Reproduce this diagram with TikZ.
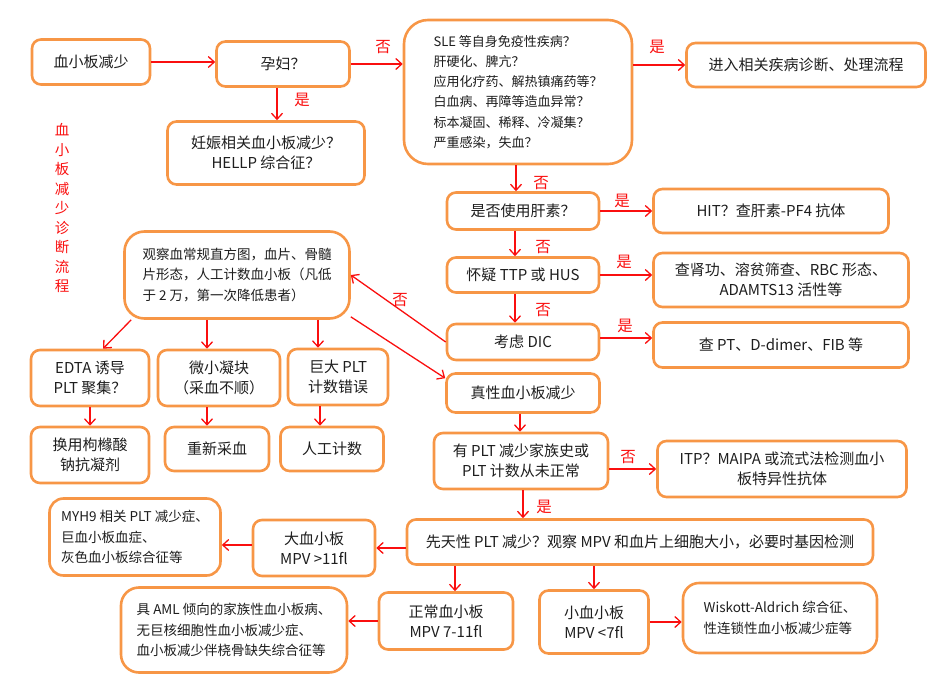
\documentclass[tikz,border=0pt]{standalone}
\usepackage{fontspec}
\setmainfont{Noto Sans CJK SC}
\usetikzlibrary{arrows.meta,calc}
\newlength{\du}
\setlength{\du}{1pt}
% full width punctuation
\newcommand{\fwq}{^^^^ff1f}
\newcommand{\fwc}{^^^^ff0c}
\newcommand{\fwl}{^^^^ff08}
\newcommand{\fwr}{^^^^ff09}
\definecolor{boxorange}{RGB}{247,150,70}
\definecolor{linkred}{RGB}{250,15,15}
\definecolor{textgray}{RGB}{30,30,30}
\tikzset{
  flowbox/.style={draw=boxorange, line width=2.6pt, rounded corners=9pt, fill=white,
    text=textgray, align=center, inner sep=0pt, font=\fontsize{15}{20}\selectfont},
  notebox/.style={flowbox, align=left, font=\fontsize{13.5}{20.3}\selectfont},
  flowarrow/.style={draw=linkred, line width=1.3pt, -{Straight Barb[length=6pt,width=11pt]}},
  answer/.style={text=linkred, inner sep=0pt, font=\fontsize{15.5}{15.5}\selectfont},
}
\begin{document}
\begin{tikzpicture}[x=\du,y=-\du]
\useasboundingbox (0,0) rectangle (951,696);
% title
\node[answer, align=center, font=\fontsize{14.5}{19.5}\selectfont] (title) at (62,208)
  {血\\小\\板\\减\\少\\诊\\断\\流\\程};
% top row
\node[flowbox, minimum width=118\du, minimum height=45\du] (plt) at (91,62) {血小板减少};
\node[flowbox, minimum width=133\du, minimum height=45\du] (preg) at (283,64) {孕妇\fwq};
\node[flowbox, minimum width=197\du, minimum height=63\du] (hellp) at (266,153)
  {妊娠相关血小板减少\fwq\\HELLP 综合征\fwq};
\node[notebox, rounded corners=24pt, minimum width=228\du, minimum height=144\du,
  font=\fontsize{13}{20.3}\selectfont] (sle) at (518,92)
  {SLE 等自身免疫性疾病\fwq\\肝硬化、脾亢\fwq\\应用化疗药、解热镇痛药等\fwq\\白血病、再障等造血异常\fwq\\标本凝固、稀释、冷凝集\fwq\\严重感染\fwc 失血\fwq};
\node[flowbox, minimum width=239\du, minimum height=44\du] (enter) at (806,65) {进入相关疾病诊断、处理流程};
% middle column
\node[flowbox, minimum width=152\du, minimum height=37\du] (hep) at (523,211) {是否使用肝素\fwq};
\node[flowbox, minimum width=235\du, minimum height=44\du] (hit) at (771,211) {HIT\fwq 查肝素-PF4 抗体};
\node[flowbox, minimum width=152\du, minimum height=35\du] (ttp) at (523,275) {怀疑 TTP 或 HUS};
\node[flowbox, minimum width=255\du, minimum height=54\du] (renal) at (781,280)
  {查肾功、溶贫筛查、RBC 形态、\\ADAMTS13 活性等};
\node[flowbox, minimum width=152\du, minimum height=36\du] (dic) at (523,342) {考虑 DIC};
\node[flowbox, minimum width=255\du, minimum height=45\du] (ptbox) at (781,345) {查 PT、D-dimer、FIB 等};
\node[flowbox, minimum width=153\du, minimum height=39\du] (true) at (523,393) {真性血小板减少};
\node[flowbox, minimum width=174\du, minimum height=56\du] (family) at (521,461)
  {有 PLT 减少家族史或\\PLT 计数从未正常};
\node[flowbox, minimum width=249\du, minimum height=56\du] (itp) at (782,469)
  {ITP\fwq MAIPA 或流式法检测血小\\板特异性抗体};
\node[flowbox, minimum width=466\du, minimum height=45\du] (congen) at (640,542)
  {先天性 PLT 减少\fwq 观察 MPV 和血片上细胞大小\fwc 必要时基因检测};
% bottom rows
\node[flowbox, minimum width=122\du, minimum height=56\du] (large) at (314,548) {大血小板\\MPV >11fl};
\node[notebox, rounded corners=14pt, minimum width=171\du, minimum height=77\du] (myh9) at (135,537)
  {MYH9 相关 PLT 减少症、\\巨血小板血症、\\灰色血小板综合征等};
\node[flowbox, minimum width=134\du, minimum height=57\du] (normal) at (446,621) {正常血小板\\MPV 7-11fl};
\node[flowbox, minimum width=109\du, minimum height=63\du] (small) at (594,622) {小血小板\\MPV <7fl};
\node[notebox, rounded corners=16pt, minimum width=194\du, minimum height=70\du] (wisk) at (780,618)
  {Wiskott-Aldrich 综合征、\\性连锁性血小板减少症等};
\node[notebox, rounded corners=18pt, minimum width=226\du, minimum height=85\du] (aml) at (234,630)
  {具 AML 倾向的家族性血小板病、\\无巨核细胞性血小板减少症、\\血小板减少伴桡骨缺失综合征等};
% false thrombocytopenia branch
\node[notebox, rounded corners=20pt, minimum width=225\du, minimum height=87\du] (obs) at (237,275)
  {观察血常规直方图\fwc 血片、骨髓\\片形态\fwc 人工计数血小板\fwl 凡低\\于 2 万\fwc 第一次降低患者\fwr};
\node[flowbox, minimum width=118\du, minimum height=56\du] (edta) at (90,378) {EDTA 诱导\\PLT 聚集\fwq};
\node[flowbox, minimum width=122\du, minimum height=56\du] (micro) at (219,378) {微小凝块\\\fwl 采血不顺\fwr};
\node[flowbox, minimum width=100\du, minimum height=56\du] (giant) at (338,377) {巨大 PLT\\计数错误};
\node[flowbox, minimum width=118\du, minimum height=56\du] (swap) at (90,455) {换用枸橼酸\\钠抗凝剂};
\node[flowbox, minimum width=104\du, minimum height=44\du] (redraw) at (217,449) {重新采血};
\node[flowbox, minimum width=103\du, minimum height=44\du] (manual) at (332,449) {人工计数};
% connectors
\draw[flowarrow] (plt.east) -- (plt.east -| preg.west);
\draw[flowarrow] (preg.east) -- (preg.east -| sle.west);
\draw[flowarrow] ([xshift=-6\du]preg.south) -- ([xshift=-6\du]preg.south |- hellp.north);
\draw[flowarrow] (sle.east |- enter.west) -- (enter.west);
\draw[flowarrow] ([xshift=-7\du]hep.north |- sle.south) -- ([xshift=-7\du]hep.north);
\draw[flowarrow] (hep.east) -- (hep.east -| hit.west);
\draw[flowarrow] ([xshift=-8\du]hep.south) -- ([xshift=-8\du]ttp.north);
\draw[flowarrow] (ttp.east) -- (ttp.east -| renal.west);
\draw[flowarrow] ([xshift=-8\du]ttp.south) -- ([xshift=-8\du]dic.north);
\draw[flowarrow] ([yshift=4\du]dic.east) -- ([yshift=4\du]dic.east -| ptbox.west);
\draw[flowarrow] (dic.west) -- (obs.east);
\draw[flowarrow] ($(obs.south east)+(0,-3)$) -- ($(true.north west)+(0,6)$);
\draw[flowarrow] ($(obs.south west)+(8,0)$) -- ($(edta.north)+(13,0)$);
\draw[flowarrow] ([xshift=-12\du]micro.north |- obs.south) -- ([xshift=-12\du]micro.north);
\draw[flowarrow] ([xshift=-20\du]giant.north |- obs.south) -- ([xshift=-20\du]giant.north);
\draw[flowarrow] (edta.south) -- (swap.north);
\draw[flowarrow] ([xshift=-12\du]micro.south) -- ([xshift=-12\du]micro.south |- redraw.north);
\draw[flowarrow] ([xshift=-18\du]giant.south) -- ([xshift=-18\du]giant.south |- manual.north);
\draw[flowarrow] ([xshift=-3\du]true.south) -- ([xshift=-3\du]true.south |- family.north);
\draw[flowarrow] (family.east |- itp.west) -- (itp.west);
\draw[flowarrow] ([xshift=2\du]family.south) -- ([xshift=2\du]family.south |- congen.north);
\draw[flowarrow] (congen.west |- large.east) -- (large.east);
\draw[flowarrow] ([yshift=3\du]large.west) -- ([yshift=3\du]large.west -| myh9.east);
\draw[flowarrow] ([xshift=9\du]normal.north |- congen.south) -- ([xshift=9\du]normal.north);
\draw[flowarrow] (small.north |- congen.south) -- (small.north);
\draw[flowarrow] (normal.west) -- (normal.west -| aml.east);
\draw[flowarrow] (small.east) -- (small.east -| wisk.west);
% yes / no labels
\node[answer] (no1) at (383,47) {否};
\node[answer] (yes1) at (302,100) {是};
\node[answer] (yes2) at (657,47) {是};
\node[answer] (no2) at (541,183) {否};
\node[answer] (yes3) at (622,201) {是};
\node[answer] (no3) at (543,247) {否};
\node[answer] (yes4) at (624,262) {是};
\node[answer] (no4) at (543,310) {否};
\node[answer] (yes5) at (625,326) {是};
\node[answer] (no5) at (400,300) {否};
\node[answer] (no6) at (628,457) {否};
\node[answer] (yes6) at (544,507) {是};
\end{tikzpicture}
\end{document}
